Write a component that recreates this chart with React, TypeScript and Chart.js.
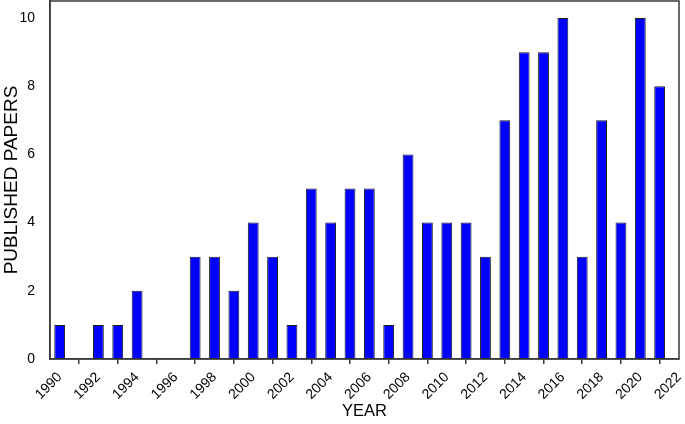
import React, { useEffect, useRef } from "react";
import { Chart, registerables } from "chart.js";

Chart.register(...registerables);

const years: number[] = [
  1990, 1991, 1992, 1993, 1994, 1995, 1996, 1997, 1998, 1999, 2000, 2001, 2002, 2003, 2004, 2005,
  2006, 2007, 2008, 2009, 2010, 2011, 2012, 2013, 2014, 2015, 2016, 2017, 2018, 2019, 2020, 2021,
];
const papers: (number | null)[] = [
  1, null, 1, 1, 2, null, null, 3, 3, 2, 4, 3, 1, 5, 4, 5,
  5, 1, 6, 4, 4, 4, 3, 7, 9, 9, 10, 3, 7, 4, 10, 8,
];
const xTicks: number[] = [1990, 1992, 1994, 1996, 1998, 2000, 2002, 2004, 2006, 2008, 2010, 2012, 2014, 2016, 2018, 2020, 2022];
const yTicks: number[] = [0, 2, 4, 6, 8, 10];

const boxPlugin = {
  id: "plotBox",
  afterDraw(chart: any) {
    const { ctx, chartArea } = chart;
    ctx.save();
    ctx.strokeStyle = "#3a3a3a";
    ctx.lineWidth = 1.5;
    ctx.strokeRect(chartArea.left, chartArea.top, chartArea.right - chartArea.left, chartArea.bottom - chartArea.top);
    ctx.restore();
  },
};

export default function App() {
  const ref = useRef<HTMLCanvasElement>(null);
  useEffect(() => {
    if (!ref.current) return;
    const font = "'Liberation Sans', Arial, sans-serif";
    const chart = new Chart(ref.current, {
      type: "bar",
      data: {
        datasets: [
          {
            data: years.map((y, i) => ({ x: y, y: papers[i] })) as any,
            backgroundColor: "#0000ff",
            borderColor: "#1a1a1a",
            borderWidth: 1,
            borderSkipped: false,
            categoryPercentage: 1,
            barPercentage: 0.56,
          },
        ],
      },
      options: {
        responsive: false,
        animation: false,
        layout: { padding: { top: 1, right: 6, left: 0, bottom: 0 } },
        plugins: { legend: { display: false }, tooltip: { enabled: false } },
        scales: {
          x: {
            type: "linear",
            min: 1989.5,
            max: 2022,
            offset: false,
            afterBuildTicks: (s: any) => {
              s.ticks = xTicks.map((v) => ({ value: v }));
            },
            afterFit: (s: any) => {
              s.height = 65;
              s.paddingLeft = 0;
              s.paddingRight = 0;
            },
            grid: { display: true, drawOnChartArea: false, tickLength: 5, color: "#3a3a3a", lineWidth: 1.5 },
            border: { display: true, color: "#3a3a3a", width: 1.5 },
            ticks: {
              autoSkip: false,
              maxRotation: 45,
              minRotation: 45,
              padding: 5,
              color: "#000",
              font: { family: font, size: 14 },
              callback: (v: any) => String(v),
            },
            title: {
              display: true,
              text: "YEAR",
              color: "#000",
              font: { family: font, size: 16.5 },
              padding: { top: 0, bottom: 3 },
            },
          },
          y: {
            min: 0,
            max: 10.5,
            afterBuildTicks: (s: any) => {
              s.ticks = yTicks.map((v) => ({ value: v }));
            },
            afterFit: (s: any) => {
              s.width = 50;
              s.paddingTop = 0;
              s.paddingBottom = 0;
            },
            grid: { display: false },
            border: { display: true, color: "#3a3a3a", width: 1.5 },
            ticks: {
              padding: 7,
              color: "#000",
              font: { family: font, size: 14 },
              callback: (v: any) => String(v),
            },
            title: {
              display: true,
              text: "PUBLISHED PAPERS",
              color: "#000",
              font: { family: font, size: 19 },
              padding: { top: 0, bottom: 0 },
            },
          },
        },
      },
      plugins: [boxPlugin],
    });
    return () => chart.destroy();
  }, []);
  return (
    <div style={{ position: "fixed", left: 0, top: 0, width: 685, height: 424, background: "#fff" }}>
      <canvas ref={ref} width={685} height={424} />
    </div>
  );
}
